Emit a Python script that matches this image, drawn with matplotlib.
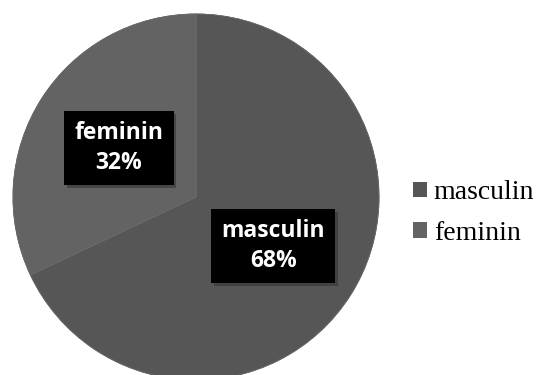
import matplotlib.pyplot as plt
import matplotlib.patheffects as pe
import numpy as np

labels = ['masculin', 'feminin']
values = [68, 32]
colors = ['#565656', '#636363']

fig = plt.figure(figsize=(5.4, 3.75), dpi=100)
fig.patch.set_facecolor('white')

# pie centre at about (196, 197) px, radius 183 px
cx, cy, r = 196, 375 - 197, 183
ax = fig.add_axes([(cx - r) / 540, (cy - r) / 375, 2 * r / 540, 2 * r / 375])

wedges, _ = ax.pie(values, colors=colors, startangle=90, counterclock=False,
                   radius=1, wedgeprops=dict(linewidth=0.6, edgecolor='#6a6a6a'))
ax.set_xlim(-1, 1)
ax.set_ylim(-1, 1)
ax.axis('off')
for w in wedges:
    w.set_path_effects([pe.withSimplePatchShadow(offset=(0, 0), shadow_rgbFace='#c8c8c8', alpha=0.9),
                        pe.Normal()])

for w, name, v in zip(wedges, labels, values):
    mid = np.deg2rad((w.theta1 + w.theta2) / 2)
    x, y = 0.5 * w.r * np.cos(mid), 0.5 * w.r * np.sin(mid)
    t = ax.text(x, y, f'{name}\n{v}%', ha='center', va='center', color='white',
                fontsize=16.5, fontweight='bold', family='Open Sans', linespacing=1.3,
                bbox=dict(boxstyle='square,pad=0.45', facecolor='black', edgecolor='none'))
    t.get_bbox_patch().set_path_effects([pe.withSimplePatchShadow(offset=(2, -2), shadow_rgbFace='#333333', alpha=0.6),
                                         pe.Normal()])

leg = fig.legend(wedges, labels, loc='center left', bbox_to_anchor=(388 / 540, 1 - 213 / 375),
                 frameon=False, prop=dict(family='Liberation Serif', size=20),
                 handlelength=0.5, handleheight=0.5, handletextpad=0.25, labelspacing=0.55)
for h in leg.legend_handles:
    h.set_path_effects([])
    h.set_edgecolor('none')

fig.savefig('out.png', dpi=100)
